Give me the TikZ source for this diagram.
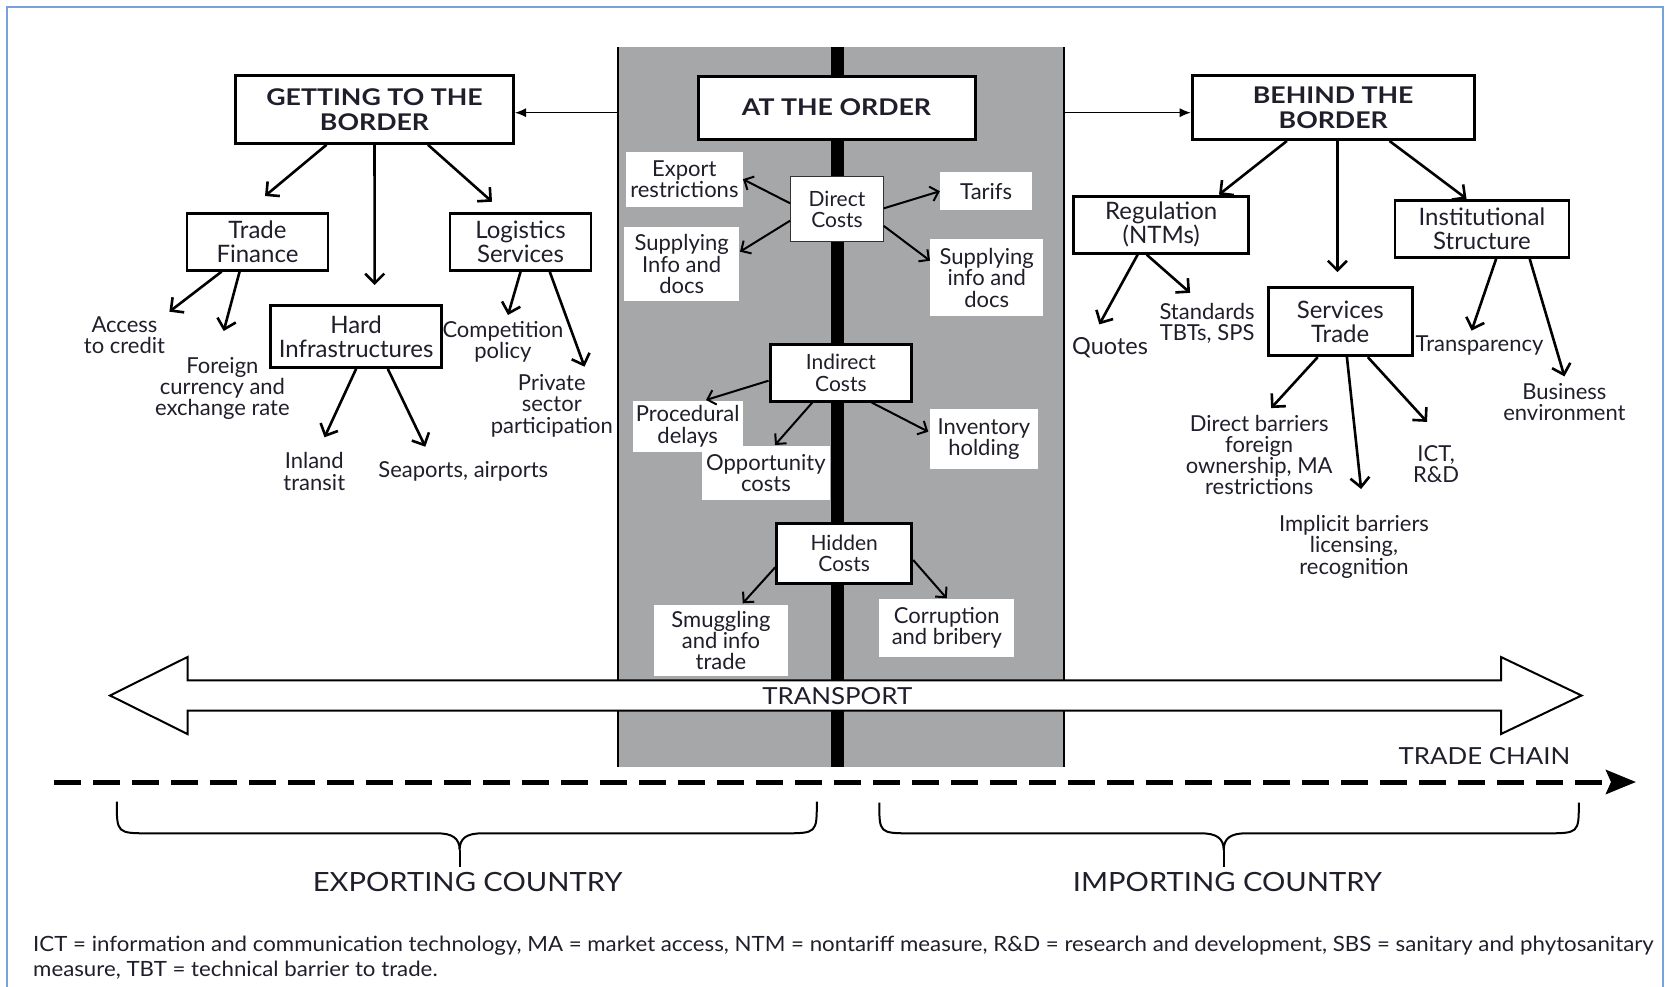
\documentclass[tikz,border=0pt]{standalone}
\usepackage{fontspec}
\setmainfont{Lato}
\newfontfamily\titlefont{Lato}[FakeStretch=1.16]
\newfontfamily\widefont{Lato}[FakeStretch=1.1]
\newfontfamily\fnfont{Lato}[FakeStretch=1.06]
\usetikzlibrary{arrows.meta}
\definecolor{bandgray}{RGB}{166,167,169}
\definecolor{framecol}{RGB}{120,162,218}
\definecolor{ink}{RGB}{32,30,42}
\newcommand\fsz[2]{\fontsize{#1}{#2}\selectfont}
\tikzset{
  every node/.style={text=ink},
  sz/.style 2 args={minimum width=#1pt, minimum height=#2pt},
  title/.style={draw=black, line width=3pt, fill=white, inner sep=0pt, align=center, font=\titlefont\bfseries\fsz{23}{25}},
  bbox/.style={draw=black, line width=2.8pt, fill=white, inner sep=0pt, align=center, font=\fsz{24}{24.2}},
  cbox/.style={draw=black, line width=3pt, fill=white, inner sep=0pt, align=center, font=\fsz{21}{21.5}},
  wbox/.style={fill=white, inner sep=0pt, align=center, font=\fsz{22}{21.3}},
  lbl/.style={inner sep=0pt, align=center, font=\fsz{22}{21.3}},
  caps/.style={inner sep=0pt, anchor=base, font=\widefont\fsz{23.5}{24}},
  arr/.style={line width=2.6pt, -{Straight Barb[length=9.5pt,width=19pt]}},
  sarr/.style={line width=2pt, -{Straight Barb[length=7.5pt,width=15pt]}},
  tarr/.style={line width=1.1pt, -{Latex[length=11pt,width=9pt]}},
}
\begin{document}
\begin{tikzpicture}[x=1pt,y=-1pt]
\useasboundingbox (0,0) rectangle (1669,986);
% frame
\draw[framecol, line width=1.5pt] (7,995) -- (7,7) -- (1663,7) -- (1663,995);
% gray band
\fill[bandgray] (618,47) rectangle (1064,767);
\draw[line width=2.5pt] (618,47) -- (618,767);
\draw[line width=2.5pt] (1064,47) -- (1064,767);
\fill[black] (831,47) rectangle (844,767);
% transport arrow
\draw[line width=2pt, fill=white] (110,695.5) -- (187.5,657) -- (187.5,680.3) -- (1501,680.3) -- (1501,657) -- (1581.5,695.5) -- (1501,734) -- (1501,710.7) -- (187.5,710.7) -- (187.5,734) -- cycle;
\node[caps] (tp) at (837.3,704.3) {TRANSPORT};
% trade chain
\coordinate (tcs) at (54,782);
\coordinate (tce) at (1636,782);
\draw[line width=5pt, dash pattern=on 27pt off 12pt, -{Stealth[length=30pt,width=24pt,inset=5pt]}] (tcs) -- (tce);
\node[caps] (tch) at (1484.5,764.3) {TRADE CHAIN};
% braces
\draw[line width=2pt] (116.8,801.7) .. controls (116.8,833.3) and (116.8,833.3) .. (150,833.3) -- (437,833.3) .. controls (452,833.3) and (459.6,838) .. (459.6,850) .. controls (459.6,838) and (467,833.3) .. (482,833.3) -- (783,833.3) .. controls (816.8,833.3) and (816.8,833.3) .. (816.8,801.7);
\draw[line width=2pt] (459.6,850) -- (459.6,866.7);
\draw[line width=2pt] (879.3,802.7) .. controls (879.3,833.3) and (879.3,833.3) .. (912,833.3) -- (1201,833.3) .. controls (1216,833.3) and (1223.7,838) .. (1223.7,850) .. controls (1223.7,838) and (1231,833.3) .. (1246,833.3) -- (1545,833.3) .. controls (1578.8,833.3) and (1578.8,833.3) .. (1578.8,802.7);
\draw[line width=2pt] (1223.7,850) -- (1223.7,866.7);
\node[caps, font=\widefont\fsz{26.5}{27}] (exc) at (467.6,891.7) {EXPORTING COUNTRY};
\node[caps, font=\widefont\fsz{26.5}{27}] (imc) at (1227.4,891.7) {IMPORTING COUNTRY};
% footnote
\node[anchor=north west, align=left, inner sep=0pt, font=\fnfont\fsz{21}{25}] (fn) at (33,936) {ICT = information and communication technology, MA = market access, NTM = nontariff measure, R\&D = research and development, SBS = sanitary and phytosanitary\\measure, TBT = technical barrier to trade.};

% title boxes
\node[title, sz={278}{68}] (gtb) at (374.5,109.3) {GETTING TO THE\\BORDER};
\node[title, sz={277}{63}] (ato) at (836.5,107.5) {AT THE ORDER};
\node[title, sz={282}{63.7}] (btb) at (1333.2,107.6) {BEHIND THE\\BORDER};
\coordinate (bandl) at (618,112.7);
\coordinate (bandr) at (1064,112.7);
\draw[tarr] (bandl) -- (bandl -| gtb.east);
\draw[tarr] (bandr) -- (bandr -| btb.west);

% left side
\node[bbox, sz={141}{57}] (tf) at (257.5,241.7) {Trade\\Finance};
\node[bbox, sz={141}{57}] (ls) at (520.5,242) {Logistics\\Services};
\node[bbox, sz={171}{62}] (hi) at (356.1,336.5) {Hard\\Infrastructures};
\coordinate (e-tf) at (265,196);
\coordinate (e-hi) at (374.7,285);
\coordinate (e-ls) at (492,201.7);
\draw[arr] ([xshift=-48pt]gtb.south) -- (e-tf);
\draw[arr] (gtb.south) -- (e-hi);
\draw[arr] ([xshift=53.5pt]gtb.south) -- (e-ls);

\node[lbl] (acc) at (124.5,335) {Access\\to credit};
\node[lbl] (fx) at (222.4,388.4) {Foreign\\currency and\\exchange rate};
\node[lbl] (cp) at (502.9,341.5) {Competition\\policy};
\node[lbl] (psp) at (551.8,405.7) {Private\\sector\\participation};
\node[lbl] (it) at (314.3,471.4) {Inland\\transit};
\node[lbl, anchor=base] (sa) at (463.3,477.3) {Seaports, airports};
\coordinate (e-acc) at (169.4,311.7);
\coordinate (e-fx) at (223.7,331);
\coordinate (e-cp) at (508,315);
\coordinate (e-psp) at (584.5,366.7);
\coordinate (e-it) at (324.5,437.3);
\coordinate (e-sa) at (425.3,446.7);
\draw[arr] ([xshift=-35.9pt]tf.south) -- (e-acc);
\draw[arr] ([xshift=-17.9pt]tf.south) -- (e-fx);
\draw[arr] (ls.south) -- (e-cp);
\draw[arr] ([xshift=29.3pt]ls.south) -- (e-psp);
\draw[arr] (hi.south) -- (e-it);
\draw[arr] ([xshift=31.7pt]hi.south) -- (e-sa);

% right side
\node[bbox, sz={175}{57}] (reg) at (1161.2,224.8) {Regulation\\(NTMs)};
\node[bbox, sz={174}{57}] (ins) at (1481.9,229) {Institutional\\Structure};
\node[bbox, sz={144}{68}] (st) at (1340.2,321.7) {Services\\Trade};
\coordinate (e-reg) at (1219,194.6);
\coordinate (e-st) at (1337.4,272.1);
\coordinate (e-ins) at (1466.5,198.8);
\draw[arr] ([xshift=-46.3pt]btb.south) -- (e-reg);
\draw[arr] ([xshift=4.2pt]btb.south) -- (e-st);
\draw[arr] ([xshift=56.3pt]btb.south) -- (e-ins);

\node[lbl, anchor=base, font=\fsz{23.5}{24}] (qt) at (1110,354) {Quotes};
\node[lbl] (sts) at (1207.1,323.4) {Standards\\TBTs, SPS};
\node[lbl, anchor=base] (tr) at (1479.5,351.3) {Transparency};
\node[lbl] (be) at (1564.4,402.1) {Business\\environment};
\node[lbl] (db) at (1259.2,455) {Direct barriers\\foreign\\ownership, MA\\restrictions};
\node[lbl] (ict) at (1436.1,463.9) {ICT,\\R\&D};
\node[lbl] (ib) at (1354,546.7) {Implicit barriers\\licensing,\\recognition};
\coordinate (e-qt) at (1099.3,324.4);
\coordinate (e-sts) at (1190.1,292.8);
\coordinate (e-tr) at (1471.6,330.6);
\coordinate (e-be) at (1564.4,376.4);
\coordinate (e-db) at (1271.1,408.1);
\coordinate (e-ib) at (1361.1,489);
\coordinate (e-ict) at (1427,421.9);
\draw[arr] ([xshift=-23.6pt]reg.south) -- (e-qt);
\draw[arr] ([xshift=-14.5pt]reg.south) -- (e-sts);
\draw[arr] ([xshift=14.2pt]ins.south) -- (e-tr);
\draw[arr] ([xshift=47.8pt]ins.south) -- (e-be);
\draw[arr] ([xshift=-22.5pt]st.south) -- (e-db);
\draw[arr] ([xshift=6.7pt]st.south) -- (e-ib);
\draw[arr] ([xshift=27.6pt]st.south) -- (e-ict);

% at the border: direct costs
\node[draw=black!80, line width=1.2pt, fill=white, inner sep=0pt, align=center, font=\fsz{21}{21.5}, sz={92.6}{65}] (dc) at (837,209.2) {Direct\\Costs};
\node[wbox, sz={116.7}{55}] (er) at (684.4,179.2) {Export\\restrictions};
\node[wbox, sz={115.3}{73.4}] (sl) at (681.7,264) {Supplying\\Info and\\docs};
\node[wbox, sz={92.3}{37.7}] (ta) at (986.2,191.2) {Tarifs};
\node[wbox, sz={113.3}{76.7}] (sr) at (986.7,277.7) {Supplying\\info and\\docs};
\coordinate (e-sl) at (740,251.7);
\coordinate (e-sr) at (930,260.7);
\draw[sarr] ([yshift=5.9pt]dc.west) -- (er.east);
\draw[sarr] ([yshift=-11.5pt]dc.west) -- (e-sl);
\draw[sarr] ([yshift=0.9pt]dc.east) -- (ta.west);
\draw[sarr] ([yshift=-16.8pt]dc.east) -- (e-sr);

% indirect costs
\node[cbox, sz={141.7}{56.7}] (ic) at (840.9,372.7) {Indirect\\Costs};
\node[wbox, sz={110}{50.7}] (pd) at (687.7,426.4) {Procedural\\delays};
\node[wbox, sz={128.3}{54}] (oc) at (765.9,473) {Opportunity\\costs};
\node[wbox, sz={107.7}{60}] (ih) at (983.9,439.3) {Inventory\\holding};
\coordinate (e-pd) at (706,400);
\coordinate (e-oc) at (775,445);
\coordinate (e-ih) at (928.3,431.7);
\draw[sarr] ([yshift=-8pt]ic.west) -- (e-pd);
\draw[sarr] ([xshift=-28.6pt]ic.south) -- (e-oc);
\draw[sarr] ([xshift=30.8pt]ic.south) -- (e-ih);

% hidden costs
\node[cbox, sz={135}{60}] (hc) at (844.2,553.3) {Hidden\\Costs};
\node[wbox, sz={133.4}{71}] (sm) at (721,640.5) {Smuggling\\and info\\trade};
\node[wbox, sz={135}{57.7}] (cb) at (946.8,627.9) {Corruption\\and bribery};
\coordinate (e-sm) at (742.7,603.3);
\coordinate (e-cb) at (946.7,598.3);
\draw[sarr] ([yshift=-14pt]hc.west) -- (e-sm);
\draw[sarr] ([yshift=-6.7pt]hc.east) -- (e-cb);
\end{tikzpicture}
\end{document}
